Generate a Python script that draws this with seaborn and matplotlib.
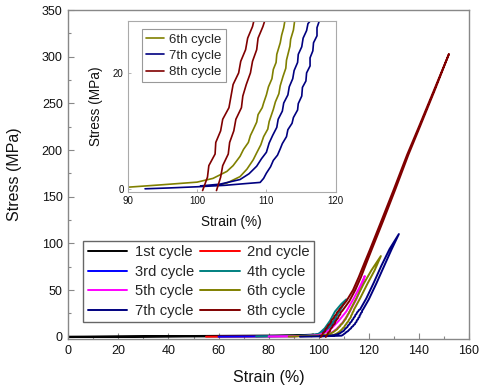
import numpy as np
import pandas as pd
import matplotlib
matplotlib.use("Agg")
import matplotlib.pyplot as plt
import seaborn as sns

# --- data: each cycle = loading branch + unloading branch ---
labels = ["1st cycle", "2nd cycle", "3rd cycle", "4th cycle",
          "5th cycle", "6th cycle", "7th cycle", "8th cycle"]
colors = ["#000000", "#ff0000", "#0000ff", "#008080",
          "#ff00ff", "#808000", "#000080", "#800000"]

c1_up_x = [0, 20, 40, 60, 80, 92, 98]
c1_up_y = [0.0, 0.3, 0.6, 0.9, 1.2, 1.6, 2.2]
c1_dn_x = [0, 40, 70, 90, 96, 98]
c1_dn_y = [-0.4, 0.1, 0.5, 0.9, 1.4, 2.2]

c2_up_x = [55, 90, 99, 102, 104.5]
c2_up_y = [0.0, 0.4, 1.5, 4.0, 9.0]
c2_dn_x = [97, 101, 104.5]
c2_dn_y = [0.4, 2.5, 9.0]

c3_up_x = [60, 90, 98, 101, 104, 107]
c3_up_y = [0.0, 0.5, 1.5, 4.0, 11.0, 20.0]
c3_dn_x = [98, 102, 105, 107]
c3_dn_y = [0.6, 4.0, 12.0, 20.0]

c4_up_x = [75, 95, 100, 102.4, 104.5, 106.5, 109, 111]
c4_up_y = [0.3, 1.2, 3.0, 9.0, 17.0, 27.0, 35.0, 40.0]
c4_dn_x = [99, 102, 104, 106, 108.5, 111]
c4_dn_y = [1.0, 4.0, 9.0, 17.0, 28.0, 40.0]

c5_up_x = [80, 95, 100, 103, 105.5, 108, 111, 114, 116.5, 118.4]
c5_up_y = [0.3, 0.8, 1.8, 5.0, 10.0, 17.0, 27.0, 41.0, 54.0, 65.0]
c5_dn_x = [102, 104.5, 107, 109.5, 112, 115, 117, 118.4]
c5_dn_y = [0.6, 3.0, 8.0, 15.0, 25.0, 40.0, 53.0, 65.0]

c6_up_x = [88, 90.3, 95, 100, 102.3, 104.3, 105.2, 106.2, 106.7, 107.4, 107.7, 108.1,
           108.6, 108.8, 109.4, 109.6, 110.0, 110.3, 110.8, 111.0, 111.4, 111.5, 112.0,
           112.2, 112.5, 112.7, 115, 118, 121, 124.8]
c6_up_y = [0.2, 0.3, 0.7, 1.15, 1.8, 3.0, 4.0, 5.6, 6.8, 8.0, 9.2, 10.2,
           11.5, 12.8, 14.0, 14.8, 16.2, 17.6, 19.0, 20.6, 21.8, 23.2, 25.2,
           26.5, 27.8, 29.2, 41, 57, 71, 86.4]
c6_dn_x = [103, 104.3, 106.2, 107.2, 108.1, 108.6, 109.2, 109.6, 110.2, 110.4, 111.0,
           111.3, 111.8, 112.0, 112.4, 112.8, 112.9, 113.4, 113.5, 113.9, 114.1,
           116.5, 119.5, 122.3, 124.8]
c6_dn_y = [0.6, 1.0, 2.1, 3.4, 5.0, 6.2, 7.6, 9.0, 10.3, 11.6, 13.7,
           15.0, 16.4, 17.8, 19.4, 20.8, 22.2, 24.6, 25.8, 27.4, 29.2,
           41, 57, 71, 86.4]

c7_up_x = [92.5, 96, 100, 104, 107, 109.1, 109.6, 110.0, 110.6, 111.0, 111.6, 112.0,
           112.3, 112.9, 113.1, 113.7, 113.9, 114.5, 114.6, 115.1, 115.2, 115.7, 115.8,
           116.3, 116.3, 116.7, 116.8, 117.3, 117.3, 117.7, 120, 123, 126, 129, 132]
c7_up_y = [0.0, 0.15, 0.35, 0.6, 0.9, 1.1, 1.8, 2.7, 3.8, 4.9, 5.8, 6.9,
           7.8, 9.0, 10.2, 11.3, 12.3, 13.6, 14.7, 16.0, 17.5, 18.6, 20.0,
           21.2, 22.6, 23.8, 25.2, 26.4, 27.8, 29.2, 40, 57, 75, 93, 110]
c7_dn_x = [100.5, 103.3, 106.2, 107.5, 108.6, 109.3, 110.0, 110.4, 110.9, 111.5, 111.7,
           112.3, 112.5, 113.1, 113.3, 113.8, 114.0, 114.5, 114.6, 115.1, 115.3, 115.8,
           116.0, 116.5, 119, 122, 125, 128.3, 132]
c7_dn_y = [0.5, 0.8, 1.6, 2.6, 3.9, 5.2, 6.3, 7.9, 9.2, 10.6, 12.0,
           13.4, 14.8, 16.2, 17.6, 19.0, 20.4, 21.8, 23.2, 24.5, 26.0, 27.3,
           28.5, 29.2, 41, 58, 76, 94, 110]

c8_up_x = [100.8, 101.5, 101.7, 102.6, 102.7, 103.4, 103.7, 104.6, 104.9, 105.2, 106.0,
           106.3, 107.0, 107.3, 108.0, 108.3, 111, 113.7, 116, 118.4, 120.4, 125, 130,
           135.3, 140, 146, 152]
c8_up_y = [-0.3, 2, 4, 6, 8, 10, 12, 14, 16, 18, 20,
           22, 24, 26, 28, 29.5, 38, 50, 64, 80, 93, 124, 158,
           195, 225, 264, 303]
c8_dn_x = [102.8, 103.4, 103.7, 104.5, 104.7, 105.3, 105.6, 106.4, 106.6, 107.1, 107.7,
           108.0, 108.6, 108.8, 109.5, 109.9, 112.2, 114.6, 116.9, 119.2, 121.1, 125.7,
           130.6, 135.8, 140.4, 146.3, 152]
c8_dn_y = [-0.3, 2, 4, 6, 8, 10, 12, 14, 16, 18, 20,
           22, 24, 26, 28, 29.5, 38, 50, 64, 80, 93, 124,
           158, 195, 225, 264, 303]

cycles = [
    (c1_up_x, c1_up_y, c1_dn_x, c1_dn_y),
    (c2_up_x, c2_up_y, c2_dn_x, c2_dn_y),
    (c3_up_x, c3_up_y, c3_dn_x, c3_dn_y),
    (c4_up_x, c4_up_y, c4_dn_x, c4_dn_y),
    (c5_up_x, c5_up_y, c5_dn_x, c5_dn_y),
    (c6_up_x, c6_up_y, c6_dn_x, c6_dn_y),
    (c7_up_x, c7_up_y, c7_dn_x, c7_dn_y),
    (c8_up_x, c8_up_y, c8_dn_x, c8_dn_y),
]

# one closed path per cycle: up the loading branch, back down the other one
rows = []
for lab, (ux, uy, dx, dy) in zip(labels, cycles):
    xs = list(ux) + list(dx)[::-1]
    ys = list(uy) + list(dy)[::-1]
    for i, (x, y) in enumerate(zip(xs, ys)):
        rows.append({"cycle": lab, "order": i, "strain": x, "stress": y})
df = pd.DataFrame(rows)

sns.set_style("ticks")
plt.rcParams["font.family"] = ["Liberation Sans", "DejaVu Sans"]

fig = plt.figure(figsize=(4.82, 3.89), dpi=100)
ax = fig.add_axes([0.1417, 0.1285, 0.8313, 0.8455])

for lab, col in zip(labels, colors):
    d = df[df["cycle"] == lab]
    sns.lineplot(data=d, x="strain", y="stress", sort=False, estimator=None,
                 color=col, lw=1.4, label=lab, ax=ax, legend=False)

ax.set_xlim(0, 160)
ax.set_ylim(-2.5, 350)
ax.set_xticks(np.arange(0, 161, 20))
ax.set_xticks(np.arange(10, 160, 20), minor=True)
ax.set_yticks(np.arange(0, 351, 50))
ax.set_yticks(np.arange(25, 350, 50), minor=True)
ax.tick_params(which="major", direction="in", length=4, width=0.8, color="#888888",
               labelsize=9, pad=4, labelcolor="#111111")
ax.tick_params(which="minor", direction="in", length=2, width=0.8, color="#888888")
for s in ax.spines.values():
    s.set_color("#888888")
    s.set_linewidth(1.0)
ax.set_xlabel("Strain (%)", fontsize=11.5, labelpad=10, color="#111111")
ax.set_ylabel("Stress (MPa)", fontsize=11.5, labelpad=14, color="#111111")

h, l = ax.get_legend_handles_labels()
order = [0, 2, 4, 6, 1, 3, 5, 7]
leg = ax.legend([h[i] for i in order], [l[i] for i in order], ncol=2,
                loc="upper left", bbox_to_anchor=(0.037, 0.298), borderaxespad=0,
                fontsize=10.6, handlelength=2.7, handletextpad=0.5, columnspacing=0.4,
                labelspacing=0.37, borderpad=0.3, fancybox=False, framealpha=1)
leg.get_frame().set_edgecolor("#666666")
leg.get_frame().set_linewidth(1.0)

# inset zoom of the last three cycles
ins = fig.add_axes([0.265, 0.5057, 0.4315, 0.441])
for lab, col in zip(labels[5:], colors[5:]):
    d = df[df["cycle"] == lab]
    sns.lineplot(data=d, x="strain", y="stress", sort=False, estimator=None,
                 color=col, lw=1.2, label=lab, ax=ins, legend=False)
ins.set_xlim(90, 120)
ins.set_ylim(-0.6, 29)
ins.set_xticks([90, 100, 110, 120])
ins.set_yticks([0, 20])
ins.tick_params(direction="in", length=2, width=0.6, color="#aaaaaa", labelsize=7,
                pad=3, labelcolor="#111111")
for s in ins.spines.values():
    s.set_color("#aaaaaa")
    s.set_linewidth(0.8)
ins.set_xlabel("Strain (%)", fontsize=9.8, labelpad=6, color="#111111")
ins.set_ylabel("Stress (MPa)", fontsize=9.8, labelpad=7, color="#111111")
ileg = ins.legend(loc="upper left", bbox_to_anchor=(0.067, 0.95), borderaxespad=0,
                  fontsize=9.5, handlelength=1.4, handletextpad=0.4,
                  labelspacing=0.32, borderpad=0.3, fancybox=False, framealpha=1)
ileg.get_frame().set_edgecolor("#999999")
ileg.get_frame().set_linewidth(0.8)

fig.savefig("out.png", dpi=100)
